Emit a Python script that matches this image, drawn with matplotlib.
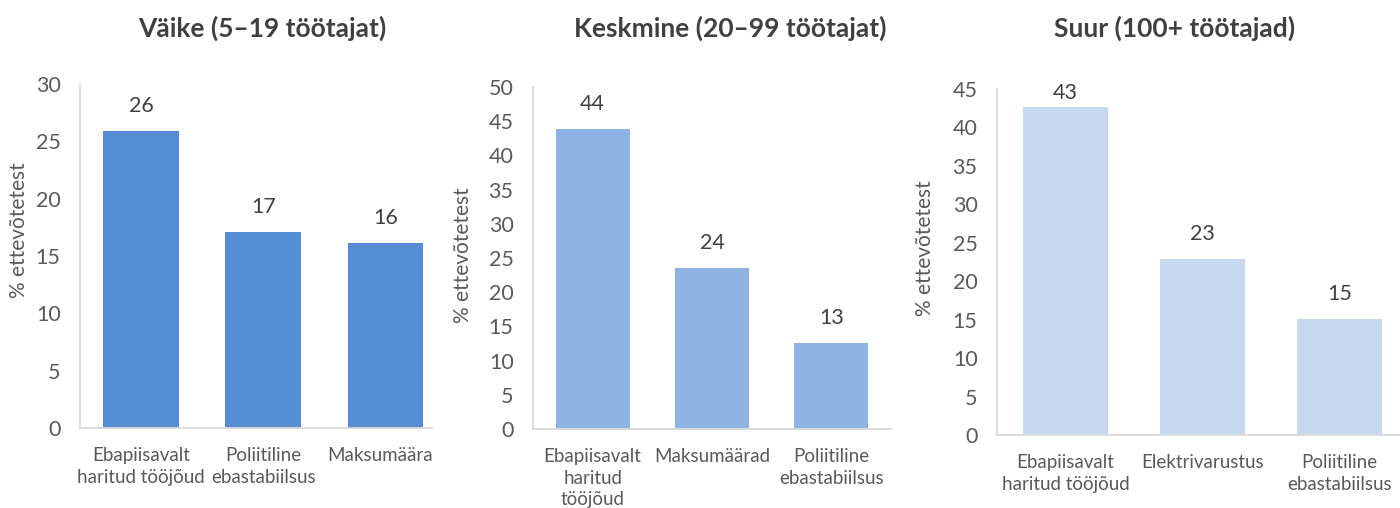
import matplotlib.pyplot as plt
from matplotlib.transforms import Bbox, TransformedBbox

# data
small_labels = ['Ebapiisavalt\nharitud tööjõud', 'Poliitiline\nebastabiilsus', 'Maksumäärad']
small_values = [25.9, 17.1, 16.1]

medium_labels = ['Ebapiisavalt\nharitud\ntööjõud', 'Maksumäärad', 'Poliitiline\nebastabiilsus']
medium_values = [43.9, 23.6, 12.6]

large_labels = ['Ebapiisavalt\nharitud tööjõud', 'Elektrivarustus', 'Poliitiline\nebastabiilsus']
large_values = [42.7, 22.9, 15.1]

titles = ['Väike (5–19 töötajat)', 'Keskmine (20–99 töötajat)', 'Suur (100+ töötajad)']

plt.rcParams['font.family'] = ['Lato', 'DejaVu Sans']

W, H = 1400, 508
fig = plt.figure(figsize=(W / 100, H / 100), dpi=100)

TEXT = '#595959'
TITLE = '#404040'
AXIS = '#d9d9d9'


def px_axes(left, right, bottom, top):
    return fig.add_axes([left / W, (H - bottom) / H, (right - left) / W, (bottom - top) / H])


panels = [
    # labels, values, color, ymax, step, axes box (px), xlim right, title x, ylabel x, ylabel y
    (small_labels, small_values, '#558ed5', 30, 5, (80, 432, 428, 84), 2.38, 262, 19, 230),
    (medium_labels, medium_values, '#8eb4e3', 50, 5, (533, 891, 429, 87), 2.5, 730, 463, 255),
    (large_labels, large_values, '#c6d9f1', 45, 5, (997, 1408, 435, 89), 2.5, 1175, 925, 248),
]

for i, (labels, values, color, ymax, step, box, xr, tx, lx, ly) in enumerate(panels):
    ax = px_axes(*box)
    xs = range(len(values))
    ax.bar(xs, values, width=0.62, color=color, zorder=2)
    ax.set_xlim(-0.5, xr)
    ax.set_ylim(0, ymax)
    ax.set_yticks(range(0, ymax + 1, step))
    ax.set_xticks(list(xs))
    ax.set_xticklabels(labels, fontsize=13.5, color=TEXT, linespacing=1.32)
    ax.tick_params(axis='both', length=0)
    ax.tick_params(axis='y', labelsize=15.5, labelcolor=TEXT, pad=14)
    ax.tick_params(axis='x', pad=14)
    for s in ['top', 'right']:
        ax.spines[s].set_visible(False)
    for s in ['left', 'bottom']:
        ax.spines[s].set_color(AXIS)
        ax.spines[s].set_linewidth(1.3)

    # value labels above bars, pushed down when they would leave the plot
    px_per_unit = (box[2] - box[3]) / ymax
    pad = 25 / px_per_unit
    for x, v in zip(xs, values):
        y = min(v + pad, ymax - 4 / px_per_unit)
        ax.text(x, y, f'{v:.0f}', ha='center', va='center', fontsize=15.5,
                color=TITLE, clip_on=False)

    fig.text(tx / W, 1 - 28 / H, titles[i], ha='center', va='center',
             fontsize=19, fontweight='bold', color=TITLE)
    fig.text(lx / W, 1 - ly / H, '% ettevõtetest', rotation=90, ha='center',
             va='center', fontsize=15, color=TEXT)

    if i == 0:
        # the first panel is cut off at the right, label included
        clip = TransformedBbox(Bbox([[0, 0], [432 / W, 1]]), fig.transFigure)
        for lab in ax.get_xticklabels():
            lab.set_clip_box(clip)
            lab.set_clip_on(True)

fig.savefig('out.png', dpi=100)
